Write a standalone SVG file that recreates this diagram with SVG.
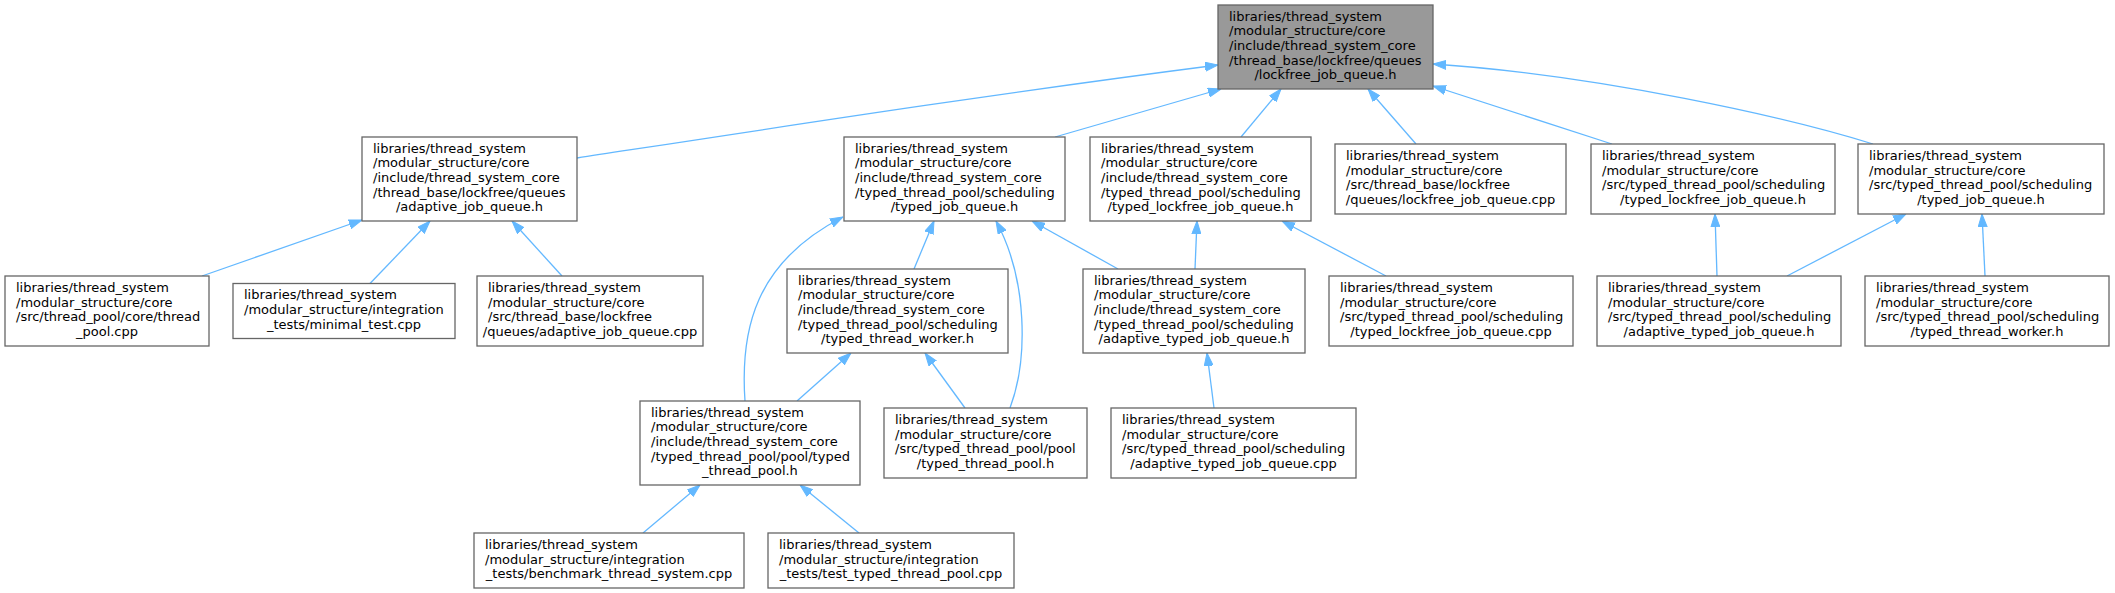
<svg xmlns="http://www.w3.org/2000/svg" width="2115" height="593" viewBox="0 0 2115 593">
<defs>
<style>
.n rect{fill:#ffffff;stroke:#666666;stroke-width:1.3}
.cur rect{fill:#999999;stroke:#666666;stroke-width:1.3}
text{font-family:"DejaVu Sans","Liberation Sans",sans-serif;font-size:13px;fill:#000000}
.c{text-anchor:middle}
.e path{fill:none;stroke:#63b8ff;stroke-width:1.3;marker-end:url(#ah)}
</style>
<marker id="ah" markerUnits="userSpaceOnUse" markerWidth="13" markerHeight="10" viewBox="0 0 13 10" refX="13" refY="5" orient="auto">
<path d="M0,0.5 L13,5 L0,9.5 z" fill="#63b8ff" stroke="#63b8ff" stroke-width="1"/>
</marker>
</defs>
<rect width="2115" height="593" fill="#ffffff"/>
<g class="e" id="edges">
<path d="M577,158 C800,124 1000,93 1218,65"/>
<path d="M1055,137 L1221,89"/>
<path d="M1241,137 L1281,89"/>
<path d="M1416,144 L1368,89"/>
<path d="M1612,144 L1433,86"/>
<path d="M1873,144 C1790,118 1600,75 1433,64"/>
<path d="M202,276 L362,220"/>
<path d="M370,283.5 L430,221"/>
<path d="M562,276 L512,221"/>
<path d="M914,269 L934,221"/>
<path d="M1118,269 L1032,221"/>
<path d="M745,401 C740,330 755,262 843,217"/>
<path d="M1010,408 C1028,360 1028,280 996,221"/>
<path d="M1195,269 L1197,221"/>
<path d="M1386,276 L1282,221"/>
<path d="M1717,276 L1715,214"/>
<path d="M1787,276 L1906,214"/>
<path d="M1985,276 L1982,214"/>
<path d="M797,401 L851,353"/>
<path d="M965,408 L925,353"/>
<path d="M1214,408 L1207,353"/>
<path d="M643,533 L700,485"/>
<path d="M859,533 L800,485"/>
</g>
<g class="cur" id="nA"><rect x="1218" y="5" width="215" height="84"/>
<text x="1229" y="20.7">libraries/thread_system</text><text x="1229" y="35.4">/modular_structure/core</text><text x="1229" y="50">/include/thread_system_core</text><text x="1229" y="64.7">/thread_base/lockfree/queues</text><text class="c" x="1325.5" y="79.4">/lockfree_job_queue.h</text></g>
<g class="n" id="nB"><rect x="362" y="137" width="215" height="84"/>
<text x="373" y="152.7">libraries/thread_system</text><text x="373" y="167.4">/modular_structure/core</text><text x="373" y="182">/include/thread_system_core</text><text x="373" y="196.7">/thread_base/lockfree/queues</text><text class="c" x="469.5" y="211.4">/adaptive_job_queue.h</text></g>
<g class="n" id="nC"><rect x="844" y="137" width="221" height="84"/>
<text x="855" y="152.7">libraries/thread_system</text><text x="855" y="167.4">/modular_structure/core</text><text x="855" y="182">/include/thread_system_core</text><text x="855" y="196.7">/typed_thread_pool/scheduling</text><text class="c" x="954.5" y="211.4">/typed_job_queue.h</text></g>
<g class="n" id="nD"><rect x="1090" y="137" width="221" height="84"/>
<text x="1101" y="152.7">libraries/thread_system</text><text x="1101" y="167.4">/modular_structure/core</text><text x="1101" y="182">/include/thread_system_core</text><text x="1101" y="196.7">/typed_thread_pool/scheduling</text><text class="c" x="1200.5" y="211.4">/typed_lockfree_job_queue.h</text></g>
<g class="n" id="nE"><rect x="1335" y="144" width="231" height="70"/>
<text x="1346" y="160">libraries/thread_system</text><text x="1346" y="174.7">/modular_structure/core</text><text x="1346" y="189.3">/src/thread_base/lockfree</text><text class="c" x="1450.5" y="204">/queues/lockfree_job_queue.cpp</text></g>
<g class="n" id="nF"><rect x="1591" y="144" width="244" height="70"/>
<text x="1602" y="160">libraries/thread_system</text><text x="1602" y="174.7">/modular_structure/core</text><text x="1602" y="189.3">/src/typed_thread_pool/scheduling</text><text class="c" x="1713" y="204">/typed_lockfree_job_queue.h</text></g>
<g class="n" id="nG"><rect x="1858" y="144" width="246" height="70"/>
<text x="1869" y="160">libraries/thread_system</text><text x="1869" y="174.7">/modular_structure/core</text><text x="1869" y="189.3">/src/typed_thread_pool/scheduling</text><text class="c" x="1981" y="204">/typed_job_queue.h</text></g>
<g class="n" id="nH"><rect x="5" y="276" width="204" height="70"/>
<text x="16" y="292">libraries/thread_system</text><text x="16" y="306.7">/modular_structure/core</text><text x="16" y="321.3">/src/thread_pool/core/thread</text><text class="c" x="107" y="336">_pool.cpp</text></g>
<g class="n" id="nI"><rect x="233" y="283.5" width="222" height="55"/>
<text x="244" y="299.3">libraries/thread_system</text><text x="244" y="314">/modular_structure/integration</text><text class="c" x="344" y="328.7">_tests/minimal_test.cpp</text></g>
<g class="n" id="nJ"><rect x="477" y="276" width="226" height="70"/>
<text x="488" y="292">libraries/thread_system</text><text x="488" y="306.7">/modular_structure/core</text><text x="488" y="321.3">/src/thread_base/lockfree</text><text class="c" x="590" y="336">/queues/adaptive_job_queue.cpp</text></g>
<g class="n" id="nK"><rect x="787" y="269" width="221" height="84"/>
<text x="798" y="284.7">libraries/thread_system</text><text x="798" y="299.4">/modular_structure/core</text><text x="798" y="314">/include/thread_system_core</text><text x="798" y="328.7">/typed_thread_pool/scheduling</text><text class="c" x="897.5" y="343.4">/typed_thread_worker.h</text></g>
<g class="n" id="nL"><rect x="1083" y="269" width="222" height="84"/>
<text x="1094" y="284.7">libraries/thread_system</text><text x="1094" y="299.4">/modular_structure/core</text><text x="1094" y="314">/include/thread_system_core</text><text x="1094" y="328.7">/typed_thread_pool/scheduling</text><text class="c" x="1194" y="343.4">/adaptive_typed_job_queue.h</text></g>
<g class="n" id="nM"><rect x="1329" y="276" width="244" height="70"/>
<text x="1340" y="292">libraries/thread_system</text><text x="1340" y="306.7">/modular_structure/core</text><text x="1340" y="321.3">/src/typed_thread_pool/scheduling</text><text class="c" x="1451" y="336">/typed_lockfree_job_queue.cpp</text></g>
<g class="n" id="nN"><rect x="1597" y="276" width="244" height="70"/>
<text x="1608" y="292">libraries/thread_system</text><text x="1608" y="306.7">/modular_structure/core</text><text x="1608" y="321.3">/src/typed_thread_pool/scheduling</text><text class="c" x="1719" y="336">/adaptive_typed_job_queue.h</text></g>
<g class="n" id="nO"><rect x="1865" y="276" width="244" height="70"/>
<text x="1876" y="292">libraries/thread_system</text><text x="1876" y="306.7">/modular_structure/core</text><text x="1876" y="321.3">/src/typed_thread_pool/scheduling</text><text class="c" x="1987" y="336">/typed_thread_worker.h</text></g>
<g class="n" id="nP"><rect x="640" y="401" width="220" height="84"/>
<text x="651" y="416.7">libraries/thread_system</text><text x="651" y="431.4">/modular_structure/core</text><text x="651" y="446">/include/thread_system_core</text><text x="651" y="460.7">/typed_thread_pool/pool/typed</text><text class="c" x="750" y="475.4">_thread_pool.h</text></g>
<g class="n" id="nQ"><rect x="884" y="408" width="203" height="70"/>
<text x="895" y="424">libraries/thread_system</text><text x="895" y="438.7">/modular_structure/core</text><text x="895" y="453.3">/src/typed_thread_pool/pool</text><text class="c" x="985.5" y="468">/typed_thread_pool.h</text></g>
<g class="n" id="nR"><rect x="1111" y="408" width="245" height="70"/>
<text x="1122" y="424">libraries/thread_system</text><text x="1122" y="438.7">/modular_structure/core</text><text x="1122" y="453.3">/src/typed_thread_pool/scheduling</text><text class="c" x="1233.5" y="468">/adaptive_typed_job_queue.cpp</text></g>
<g class="n" id="nS"><rect x="474" y="533" width="270" height="55"/>
<text x="485" y="548.8">libraries/thread_system</text><text x="485" y="563.5">/modular_structure/integration</text><text class="c" x="609" y="578.2">_tests/benchmark_thread_system.cpp</text></g>
<g class="n" id="nT"><rect x="768" y="533" width="246" height="55"/>
<text x="779" y="548.8">libraries/thread_system</text><text x="779" y="563.5">/modular_structure/integration</text><text class="c" x="891" y="578.2">_tests/test_typed_thread_pool.cpp</text></g>
</svg>
